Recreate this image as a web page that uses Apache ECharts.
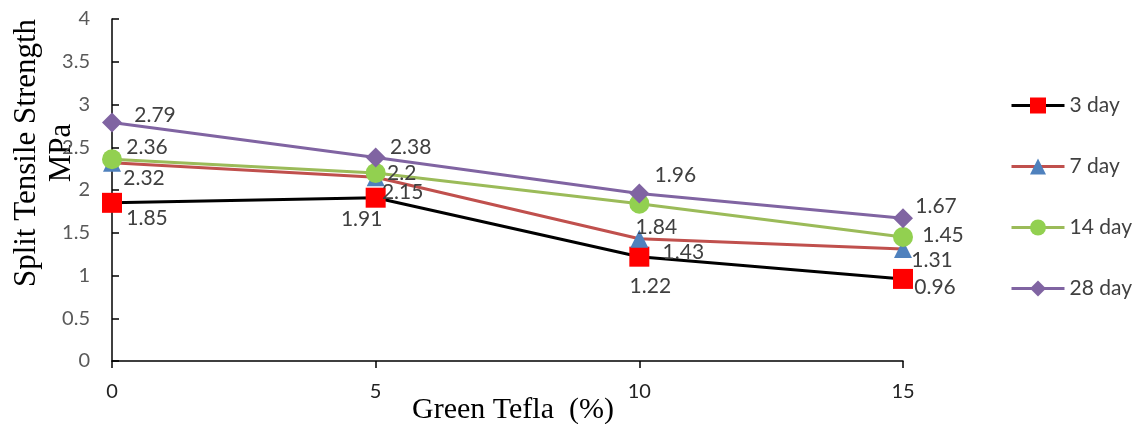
<!DOCTYPE html>
<html>
<head>
<meta charset="utf-8">
<script src="https://cdn.jsdelivr.net/npm/echarts@6/dist/echarts.min.js"></script>
<style>html,body{margin:0;padding:0;background:#fff}#c{width:1134px;height:424px}</style>
</head>
<body>
<div id="c"></div>
<script>
const xValues = [0, 5, 10, 15];
const seriesNames = ['3 day', '7 day', '14 day', '28 day'];
const day3 = [1.85, 1.91, 1.22, 0.96];
const day7 = [2.32, 2.15, 1.43, 1.31];
const day14 = [2.36, 2.2, 1.84, 1.45];
const day28 = [2.79, 2.38, 1.96, 1.67];
const yTicks = [0, 0.5, 1, 1.5, 2, 2.5, 3, 3.5, 4];

// label offsets (style only)
const off3 = [[35, 15], [-14, 22], [11, 30], [32, 8]];
const off7 = [[32, 16], [27, 15], [44, 13], [29, 11]];
const off14 = [[35, -12], [26, 0], [17, 24], [40, -2]];
const off28 = [[43, -7], [35, -10], [36, -18], [33, -12]];

const labelFont = 'Lato, "Liberation Sans", sans-serif';

function mk(name, vals, offs, lineColor, symbol, size, markColor) {
  return {
    name: name,
    type: 'line',
    data: vals.map((v, i) => ({
      value: [xValues[i], v],
      label: { offset: offs[i] }
    })),
    symbol: symbol,
    symbolSize: size,
    lineStyle: { color: lineColor, width: 3 },
    itemStyle: { color: markColor },
    color: markColor,
    label: {
      show: true,
      position: 'inside',
      color: '#404040',
      fontSize: 21,
      fontFamily: labelFont,
      formatter: p => String(p.value[1])
    },
    emphasis: { disabled: true },
    z: 2
  };
}

const chart = echarts.init(document.getElementById('c'));
chart.setOption({
  animation: false,
  backgroundColor: '#fff',
  grid: { left: 112, right: 231, top: 19, bottom: 63, containLabel: false },
  xAxis: {
    type: 'value', min: 0, max: 15, interval: 5,
    axisLine: { lineStyle: { color: '#000', width: 1.5 } },
    axisTick: { show: true, length: 7, lineStyle: { color: '#000', width: 1.5 } },
    axisLabel: { color: '#222', fontSize: 20, fontFamily: labelFont, margin: 21 },
    splitLine: { show: false }
  },
  yAxis: {
    type: 'value', min: 0, max: 4, interval: 0.5,
    axisLine: { show: true, lineStyle: { color: '#000', width: 1.5 } },
    axisTick: { show: true, inside: true, length: 7, lineStyle: { color: '#000', width: 1.5 } },
    axisLabel: { color: '#595959', fontSize: 20, fontFamily: labelFont, margin: 22,
      formatter: v => yTicks.includes(v) ? String(v) : '' },
    splitLine: { show: false }
  },
  legend: {
    orient: 'vertical',
    left: 1005, top: 90,
    itemGap: 40,
    itemWidth: 53, itemHeight: 20,
    lineStyle: { width: 3 },
    textStyle: { color: '#404040', fontSize: 21, fontFamily: labelFont },
    data: seriesNames
  },
  graphic: [
    {
      type: 'text', x: 44, y: 153, rotation: Math.PI / 2,
      style: {
        text: 'Split Tensile Strength\nMPa',
        font: '31px "Liberation Serif", "Times New Roman", serif',
        fill: '#000', align: 'center', verticalAlign: 'middle', lineHeight: 35
      }
    },
    {
      type: 'text', x: 513, y: 410,
      style: {
        text: 'Green Tefla  (%)',
        font: '30px "Liberation Serif", "Times New Roman", serif',
        fill: '#000', align: 'center', verticalAlign: 'middle'
      }
    }
  ],
  series: [
    mk(seriesNames[0], day3, off3, '#000000', 'rect', 20, '#FF0000'),
    mk(seriesNames[1], day7, off7, '#C0504D', 'triangle', 18, '#4F81BD'),
    mk(seriesNames[2], day14, off14, '#9BBB59', 'circle', 20, '#92D050'),
    mk(seriesNames[3], day28, off28, '#8064A2', 'diamond', 20, '#8064A2')
  ]
});
</script>
</body>
</html>
